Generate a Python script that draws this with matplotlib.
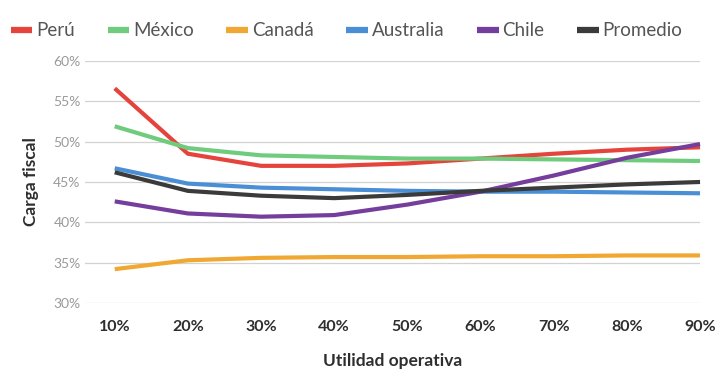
import matplotlib
matplotlib.use("Agg")
import matplotlib.pyplot as plt

plt.rcParams['font.family'] = ['Lato', 'DejaVu Sans']

x_vals = [10, 20, 30, 40, 50, 60, 70, 80, 90]
x_labels = ["10%", "20%", "30%", "40%", "50%", "60%", "70%", "80%", "90%"]

peru = [56.6, 48.5, 47.0, 47.0, 47.3, 47.9, 48.5, 49.0, 49.3]
mexico = [51.9, 49.2, 48.3, 48.1, 47.9, 47.9, 47.8, 47.7, 47.6]
canada = [34.2, 35.3, 35.6, 35.7, 35.7, 35.8, 35.8, 35.9, 35.9]
australia = [46.7, 44.8, 44.3, 44.1, 43.9, 43.8, 43.8, 43.7, 43.6]
chile = [42.6, 41.1, 40.7, 40.9, 42.2, 43.8, 45.8, 48.0, 49.7]
promedio = [46.2, 43.9, 43.3, 43.0, 43.4, 43.9, 44.3, 44.7, 45.0]

series = [
    ("Perú", peru, "#e5443d"),
    ("México", mexico, "#6fcc7c"),
    ("Canadá", canada, "#f0a833"),
    ("Australia", australia, "#4a8fd6"),
    ("Chile", chile, "#753d9c"),
    ("Promedio", promedio, "#3b3b3b"),
]

y_ticks = [30, 35, 40, 45, 50, 55, 60]
y_labels = ["30%", "35%", "40%", "45%", "50%", "55%", "60%"]

fig = plt.figure(figsize=(7.18, 3.76), dpi=100)
ax = fig.add_axes([0.118, 0.194, 0.857, 0.644])

handles = []
for name, vals, col in series:
    h, = ax.plot(x_vals, vals, color=col, lw=3.0, label=name, clip_on=False,
                 solid_capstyle='butt', solid_joinstyle='round')
    handles.append(h)

ax.set_xlim(5.9, 90)
ax.set_ylim(30, 60)
ax.set_yticks(y_ticks)
ax.set_yticklabels(y_labels, color="#9a9a9a", fontsize=10)
ax.set_xticks(x_vals)
ax.set_xticklabels(x_labels, fontsize=11.5, fontweight='bold', color="#2e2e2e")
ax.tick_params(axis='both', length=0)
ax.tick_params(axis='x', pad=12)
ax.tick_params(axis='y', pad=3)
ax.grid(axis='y', color="#d2d2d2", lw=0.9)
ax.set_axisbelow(True)
for s in ax.spines.values():
    s.set_visible(False)

ax.set_ylabel("Carga fiscal", fontsize=12.5, fontweight='bold', color="#2e2e2e", labelpad=10)
ax.set_xlabel("Utilidad operativa", fontsize=12.5, fontweight='bold', color="#2e2e2e", labelpad=14)

leg = fig.legend(handles=handles, loc='center left', bbox_to_anchor=(0.015, 0.918),
                 ncol=6, frameon=False, fontsize=13.5, handlelength=1.15,
                 handletextpad=0.2, columnspacing=1.75, borderaxespad=0, borderpad=0)
for t in leg.get_texts():
    t.set_color("#555555")
for l in leg.get_lines():
    l.set_linewidth(4.5)

fig.savefig("out.png", dpi=100)
